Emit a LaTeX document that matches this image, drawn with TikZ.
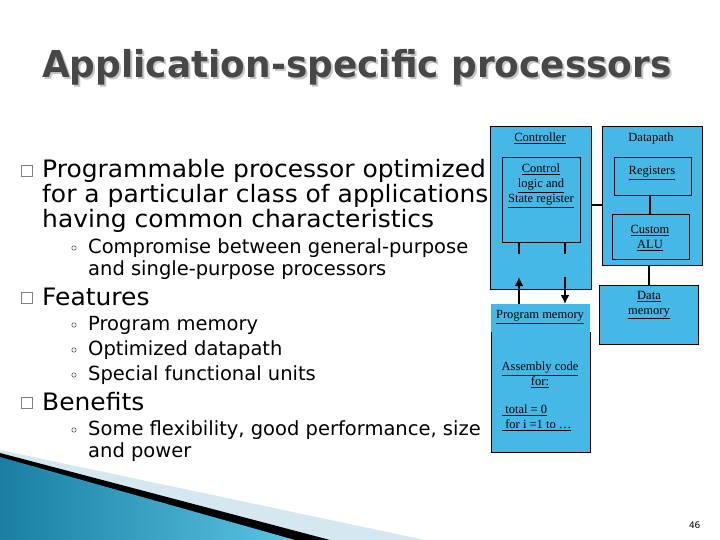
\documentclass[tikz,border=0pt]{standalone}
\usepackage{fontspec}
\setmainfont{DejaVu Sans}
\newfontfamily\tms{Liberation Serif}
\usetikzlibrary{arrows.meta}
\newcommand\ul[1]{$\underline{\hbox{#1}}$}
\newcommand\ttltext{\scalebox{0.97}[1]{Application-specific processors}}
\begin{document}
\begin{tikzpicture}[x=1pt,y=-1pt,
  bx/.style={draw=black,fill=cyanbox,line width=0.8pt},
  lbl/.style={font=\tms\fontsize{12.5}{15}\selectfont,align=center,inner sep=0pt},
  conn/.style={line width=2.2pt},
  main/.style={anchor=west,inner sep=0pt,font=\fontsize{24}{25}\selectfont,align=left},
  sub/.style={anchor=west,inner sep=0pt,font=\fontsize{19.5}{22}\selectfont,align=left}]
\definecolor{cyanbox}{HTML}{45B8E6}
\definecolor{teal1}{HTML}{1A7FA3}
\definecolor{teal2}{HTML}{5BC3E3}
\definecolor{lite}{HTML}{D5E8EF}
\useasboundingbox (0,0) rectangle (720,540);
\fill[white] (0,0) rectangle (720,540);
% bottom decoration
\fill[lite] (0,450) -- (425,540) -- (0,540) -- cycle;
\fill[black] (0,453) -- (330,540) -- (0,540) -- cycle;
\shade[left color=teal1,right color=teal2] (0,457) -- (295,540) -- (0,540) -- cycle;
% title with shadow in one node
\node (title)[anchor=base west,inner sep=0pt,text=black!72,font=\bfseries\fontsize{37}{40}\selectfont] at (42,78) {\rlap{\hspace{2pt}\raisebox{-2pt}{\color{gray!45}\ttltext}}\ttltext};
% bullets
\newcommand\sqb[1]{\draw[gray,line width=0.6pt] (21,#1-5) rectangle (32,#1+6);}
\newcommand\cb[1]{\draw[gray!70!black,line width=0.6pt] (74,#1) circle (2.2);}
\sqb{170}\sqb{297}\sqb{402}
\cb{248}\cb{325}\cb{350}\cb{375}\cb{430}
\node (t1)[main] at (42,196) {\scalebox{1.04}[1]{Programmable processor optimized}\\\scalebox{1.04}[1]{for a particular class of applications}\\\scalebox{1.04}[1]{having common characteristics}};
\node (t2)[sub] at (88,259) {Compromise between general-purpose\\and single-purpose processors};
\node (t3)[main] at (42,297) {\scalebox{1.04}[1]{Features}};
\node (t4)[sub] at (88,325) {Program memory};
\node (t5)[sub] at (88,350) {Optimized datapath};
\node (t6)[sub] at (88,375) {Special functional units};
\node (t7)[main] at (42,402) {\scalebox{1.04}[1]{Benefits}};
\node (t8)[sub] at (88,441) {Some flexibility, good performance, size\\and power};
% diagram boxes
\draw[bx] (490,126) rectangle (591,289);
\draw[bx] (502,157) rectangle (580,242);
\draw[bx] (602,126) rectangle (702,265);
\draw[bx] (614,157) rectangle (691,195);
\draw[bx] (612,214) rectangle (689,259);
\draw[bx] (599,285) rectangle (698,344);
\fill[cyanbox] (491,304) rectangle (590,332);
\draw[bx] (491,332) -- (491,452) -- (590,452) -- (590,332);
\node (ctl)[lbl] at (540,138) {\ul{Controller}};
\node (dp)[lbl] at (651,138) {Datapath};
\node (cl)[lbl] at (541,186) {\ul{Control}\\\ul{logic and}\\\ul{State register}};
\node (reg)[lbl] at (652,173) {\ul{Registers}};
\node (alu)[lbl] at (650,238) {\ul{Custom}\\\ul{ALU}};
\node (dm)[lbl] at (649,305) {\ul{Data}\\\ul{memory}};
\node (pm)[lbl] at (540,317) {\ul{Program memory}};
\node (asm)[lbl] at (540,375) {\ul{Assembly code}\\\ul{for:}};
\node (code)[lbl,align=left,anchor=west] at (502,418) {\ul{ total = 0}\\\ul{ for i =1 to \dots}};
% connectors
\draw[conn] (591,205) -- (602,205);
\draw[conn] (650,195) -- (650,214);
\draw[conn] (649,265) -- (649,285);
\draw[conn] (519,242) -- (519,254);
\draw[conn] (565,242) -- (565,254);
\draw[conn,-{Latex[length=9pt,width=9pt]}] (519,304) -- (519,277);
\draw[conn,-{Latex[length=9pt,width=9pt]}] (565,277) -- (565,304);
\node (pg)[anchor=east,font=\fontsize{9}{10}\selectfont] at (704,525) {46};
\end{tikzpicture}
\end{document}
